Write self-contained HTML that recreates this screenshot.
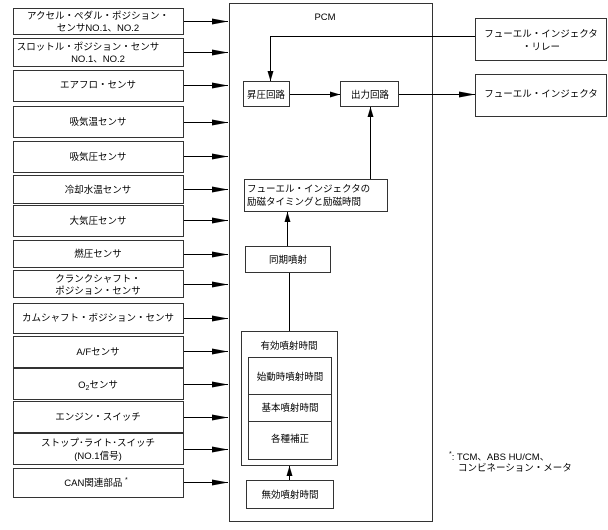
<!DOCTYPE html>
<html><head><meta charset="utf-8"><style>
body{margin:0;background:#fff}
svg text{font-family:"Liberation Sans","Noto Sans CJK JP",sans-serif;font-size:9.5px;fill:#000}
</style></head><body>
<svg width="608" height="525" viewBox="0 0 608 525" xmlns="http://www.w3.org/2000/svg">
<defs><marker id="a" markerWidth="10" markerHeight="8" refX="10" refY="4" orient="auto" markerUnits="userSpaceOnUse"><path d="M0,1 L10,4 L0,7 Z" fill="#000"/></marker>
<marker id="b" markerWidth="16" markerHeight="8" refX="16" refY="4" orient="auto" markerUnits="userSpaceOnUse"><path d="M0,1 L16,4 L0,7 Z" fill="#000"/></marker></defs>
<g fill="none" stroke="#333" stroke-width="1">
<rect x="229.5" y="3.5" width="203" height="518"/>
<rect x="13.5" y="8.5" width="170" height="26"/>
<rect x="13.5" y="38.5" width="170" height="28"/>
<rect x="13.5" y="70.5" width="170" height="31"/>
<rect x="13.5" y="106.5" width="170" height="31"/>
<rect x="13.5" y="141.5" width="170" height="31"/>
<rect x="13.5" y="175.5" width="170" height="28"/>
<rect x="13.5" y="205.5" width="170" height="31"/>
<rect x="13.5" y="240.5" width="170" height="27"/>
<rect x="13.5" y="270.5" width="170" height="27"/>
<rect x="13.5" y="303.5" width="170" height="30"/>
<rect x="13.5" y="336.5" width="170" height="31"/>
<rect x="13.5" y="368.5" width="170" height="31"/>
<rect x="13.5" y="401.5" width="170" height="31"/>
<rect x="13.5" y="433.5" width="170" height="31"/>
<rect x="13.5" y="468.5" width="170" height="29"/>
<rect x="475.5" y="18.5" width="131" height="42"/>
<rect x="475.5" y="74.5" width="131" height="42"/>
<rect x="243.5" y="81.5" width="46" height="25"/>
<rect x="340.5" y="81.5" width="58" height="25"/>
<rect x="244.5" y="179.5" width="143" height="32"/>
<rect x="245.5" y="246.5" width="85" height="26"/>
<rect x="241.5" y="331.5" width="96" height="134"/>
<rect x="248.5" y="357.5" width="83" height="102"/>
<line x1="248" y1="394.5" x2="332" y2="394.5"/>
<line x1="248" y1="421.5" x2="332" y2="421.5"/>
<rect x="246.5" y="480.5" width="87" height="28"/>
</g>
<g stroke="#000" stroke-width="1" fill="none">
<line x1="184" y1="21.5" x2="228" y2="21.5" marker-end="url(#b)"/>
<line x1="184" y1="52.5" x2="228" y2="52.5" marker-end="url(#b)"/>
<line x1="184" y1="85.5" x2="228" y2="85.5" marker-end="url(#b)"/>
<line x1="184" y1="122.5" x2="228" y2="122.5" marker-end="url(#b)"/>
<line x1="184" y1="156.5" x2="228" y2="156.5" marker-end="url(#b)"/>
<line x1="184" y1="189.5" x2="228" y2="189.5" marker-end="url(#b)"/>
<line x1="184" y1="220.5" x2="228" y2="220.5" marker-end="url(#b)"/>
<line x1="184" y1="254.5" x2="228" y2="254.5" marker-end="url(#b)"/>
<line x1="184" y1="284.5" x2="228" y2="284.5" marker-end="url(#b)"/>
<line x1="184" y1="318.5" x2="228" y2="318.5" marker-end="url(#b)"/>
<line x1="184" y1="351.5" x2="228" y2="351.5" marker-end="url(#b)"/>
<line x1="184" y1="384.5" x2="228" y2="384.5" marker-end="url(#b)"/>
<line x1="184" y1="417.5" x2="228" y2="417.5" marker-end="url(#b)"/>
<line x1="184" y1="449.5" x2="228" y2="449.5" marker-end="url(#b)"/>
<line x1="184" y1="482.5" x2="228" y2="482.5" marker-end="url(#b)"/>
<polyline points="475,36.5 270.5,36.5 270.5,81" marker-end="url(#a)"/>
<line x1="290" y1="94.5" x2="340" y2="94.5" marker-end="url(#a)"/>
<line x1="399" y1="94.5" x2="475" y2="94.5" marker-end="url(#b)"/>
<line x1="370.5" y1="179" x2="370.5" y2="107" marker-end="url(#a)"/>
<line x1="287.5" y1="246" x2="287.5" y2="212" marker-end="url(#a)"/>
<line x1="289.5" y1="331" x2="289.5" y2="273"/>
<line x1="289.5" y1="480" x2="289.5" y2="466" marker-end="url(#a)"/>
</g>
<g text-anchor="middle">
<text x="98" y="19">アクセル・ペダル・ポジション・</text>
<text x="98" y="31">センサNO.1、NO.2</text>
<text x="88" y="50">スロットル・ポジション・センサ</text>
<text x="98" y="62">NO.1、NO.2</text>
<text x="98" y="88">エアフロ・センサ</text>
<text x="98" y="125">吸気温センサ</text>
<text x="98" y="160">吸気圧センサ</text>
<text x="98" y="193">冷却水温センサ</text>
<text x="98" y="224">大気圧センサ</text>
<text x="98" y="257">燃圧センサ</text>
<text x="98" y="282">クランクシャフト・</text>
<text x="98" y="294">ポジション・センサ</text>
<text x="98" y="321">カムシャフト・ボジション・センサ</text>
<text x="98" y="355">A/Fセンサ</text>
<text x="98" y="388">O<tspan font-size="7" dy="2">2</tspan><tspan dy="-2">センサ</tspan></text>
<text x="98" y="420">エンジン・スイッチ</text>
<text x="98" y="446">ストップ･ライト･スイッチ</text>
<text x="98" y="459">(NO.1信号)</text>
<text x="96" y="486">CAN関連部品 <tspan font-size="7" dy="-4">*</tspan></text>
<text x="325" y="20">PCM</text>
<text x="541" y="37">フューエル・インジェクタ</text>
<text x="541" y="50">・リレー</text>
<text x="541" y="97">フューエル・インジェクタ</text>
<text x="266" y="98">昇圧回路</text>
<text x="370" y="98">出力回路</text>
<text x="288" y="263">同期噴射</text>
<text x="289" y="349">有効噴射時間</text>
<text x="290" y="380">始動時噴射時間</text>
<text x="290" y="411">基本噴射時間</text>
<text x="290" y="442">各種補正</text>
<text x="290" y="498">無効噴射時間</text>
</g>
<text x="247" y="192">フューエル・インジェクタの</text>
<text x="247" y="205">励磁タイミングと励磁時間</text>
<text x="449" y="460"><tspan font-size="7" dy="-4">*</tspan><tspan dy="4">: TCM、ABS HU/CM、</tspan></text>
<text x="458" y="471">コンビネーション・メータ</text>
</svg>
</body></html>
